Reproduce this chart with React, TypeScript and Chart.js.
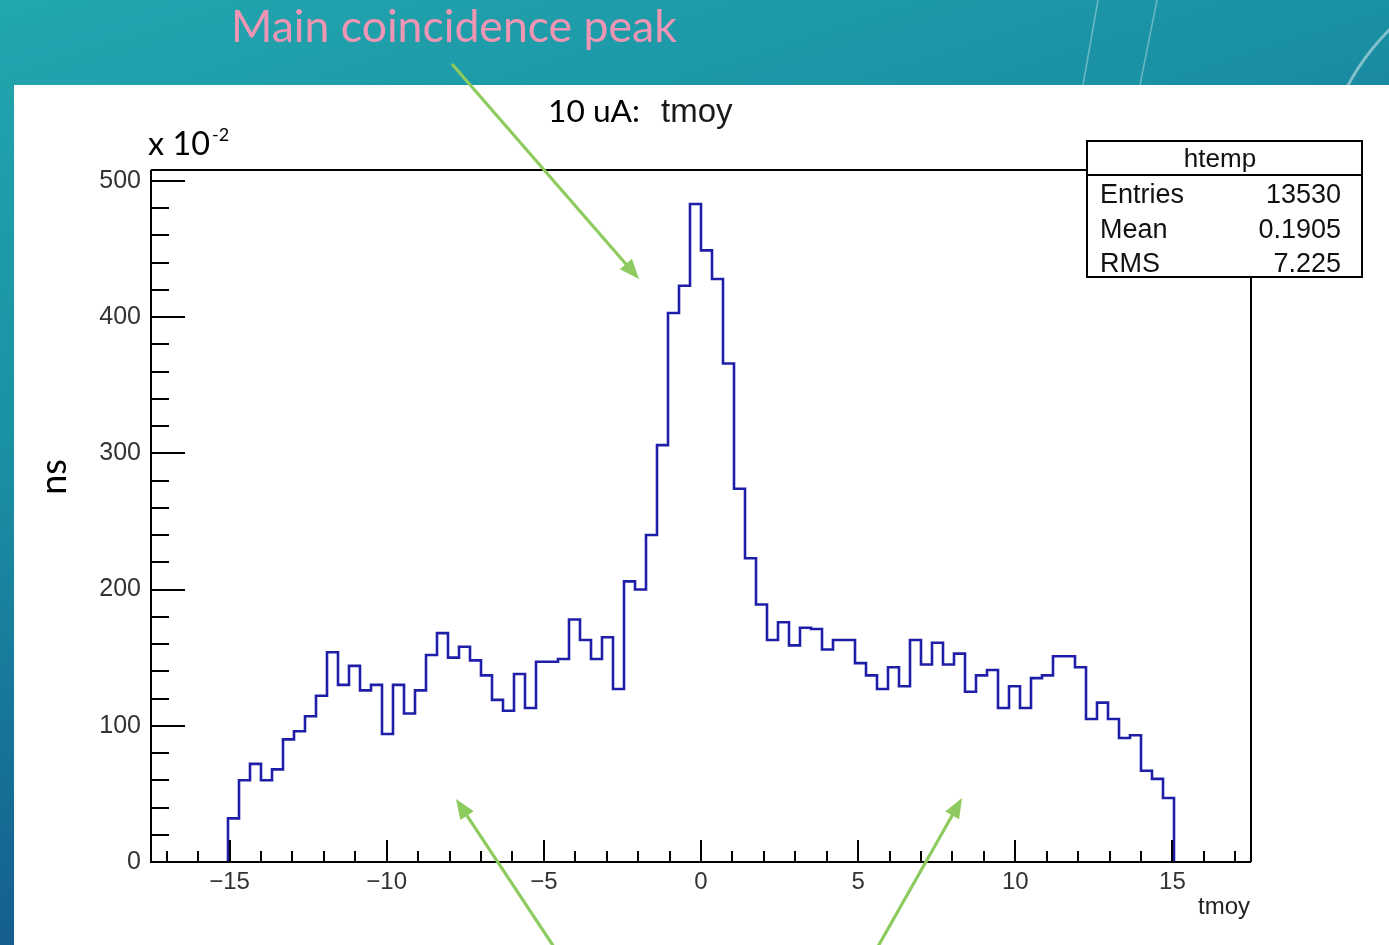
import React, { useEffect, useRef } from 'react';
import { Chart, registerables } from 'chart.js';

Chart.register(...registerables);

// ---- Histogram definition (ROOT TH1: 100 bins from -17.5 to 17.5) ----
const HIST_MIN = -17.5;
const HIST_MAX = 17.5;
const BIN_WIDTH = 0.35;
const FIRST_FILLED_BIN = 7;

// Bin contents (x 10^-2), bins 7..92
const binCounts = [
  32, 60, 72, 60, 68, 90, 96, 107, 122, 154,
  130, 144, 126, 130, 94, 130, 109, 126, 152, 168,
  150, 158, 148, 137, 119, 111, 138, 113, 147, 147,
  149, 178, 163, 149, 165, 127, 206, 200, 240, 306,
  403, 423, 483, 449, 428, 366, 274, 223, 189, 163,
  176, 159, 172, 171, 156, 163, 163, 146, 137, 127,
  143, 129, 163, 145, 161, 145, 153, 125, 137, 141,
  113, 129, 113, 135, 137, 151, 151, 143, 105, 117,
  105, 91, 93, 67, 61, 47,
];

const Y_MAX = 508;
const xTickValues = [-15, -10, -5, 0, 5, 10, 15];
const xTickLabels = ['\u221215', '\u221210', '\u22125', '0', '5', '10', '15'];
const yTickValues = [0, 100, 200, 300, 400, 500];
const yTickLabels = ['0', '100', '200', '300', '400', '500'];
const X_MINOR_STEP = 1;
const Y_MINOR_STEP = 20;

const statsTitle = 'htemp';
const statsNames = ['Entries', 'Mean', 'RMS'];
const statsValues = ['13530', '0.1905', '7.225'];

const slideTitle = 'Main coincidence peak';
const plotTitleA = '10 uA:';
const plotTitleB = 'tmoy';
const xAxisTitle = 'tmoy';
const yAxisTitle = 'ns';

const HELV = '"Liberation Sans", Arial, sans-serif';
const CAL = 'Lato, "Open Sans", sans-serif';

function fitSize(ctx: CanvasRenderingContext2D, text: string, family: string, target: number) {
  ctx.font = `100px ${family}`;
  const w = ctx.measureText(text).width;
  return (100 * target) / w;
}

function drawArrow(ctx: CanvasRenderingContext2D, x1: number, y1: number, x2: number, y2: number) {
  const ang = Math.atan2(y2 - y1, x2 - x1);
  const head = 20;
  const half = 8;
  ctx.save();
  ctx.strokeStyle = '#8dcb5e';
  ctx.fillStyle = '#8dcb5e';
  ctx.lineWidth = 3.2;
  ctx.beginPath();
  ctx.moveTo(x1, y1);
  ctx.lineTo(x2 - Math.cos(ang) * head * 0.8, y2 - Math.sin(ang) * head * 0.8);
  ctx.stroke();
  ctx.beginPath();
  ctx.moveTo(x2, y2);
  ctx.lineTo(x2 - Math.cos(ang) * head - Math.sin(ang) * half, y2 - Math.sin(ang) * head + Math.cos(ang) * half);
  ctx.lineTo(x2 - Math.cos(ang) * head + Math.sin(ang) * half, y2 - Math.sin(ang) * head - Math.cos(ang) * half);
  ctx.closePath();
  ctx.fill();
  ctx.restore();
}

const slidePlugin = {
  id: 'slide',
  beforeDraw(chart: any) {
    const ctx: CanvasRenderingContext2D = chart.ctx;
    const W = chart.width;
    const H = chart.height;
    ctx.save();
    const g = ctx.createLinearGradient(0, 0, 300, 945);
    g.addColorStop(0, '#22a7ae');
    g.addColorStop(0.45, '#1a8fa3');
    g.addColorStop(1, '#13548b');
    ctx.fillStyle = g;
    ctx.fillRect(0, 0, W, H);
    // faint decorative arcs
    ctx.strokeStyle = 'rgba(255,255,255,0.45)';
    ctx.lineWidth = 3;
    ctx.beginPath();
    ctx.arc(1560, 200, 241, 0, Math.PI * 2);
    ctx.stroke();
    ctx.strokeStyle = 'rgba(255,255,255,0.35)';
    ctx.lineWidth = 1.5;
    ctx.beginPath();
    ctx.moveTo(1098, 0);
    ctx.lineTo(1083, 85);
    ctx.moveTo(1157, 0);
    ctx.lineTo(1140, 85);
    ctx.stroke();
    // white panel
    ctx.fillStyle = '#ffffff';
    ctx.fillRect(14, 85, W - 14, H - 85);
    ctx.restore();
  },
  afterDraw(chart: any) {
    const ctx: CanvasRenderingContext2D = chart.ctx;
    const xs = chart.scales.x;
    const ys = chart.scales.y;
    const { left, right, top, bottom } = chart.chartArea;
    ctx.save();
    ctx.strokeStyle = '#000';
    ctx.lineWidth = 2;
    // frame
    ctx.beginPath();
    ctx.moveTo(left, top);
    ctx.lineTo(right, top);
    ctx.lineTo(right, bottom);
    ctx.moveTo(left, top);
    ctx.lineTo(left, bottom);
    ctx.lineTo(right, bottom);
    ctx.stroke();
    // y ticks (inside)
    ctx.beginPath();
    for (let v = 0; v <= Y_MAX; v += Y_MINOR_STEP) {
      const y = Math.round(ys.getPixelForValue(v));
      const major = yTickValues.includes(v);
      ctx.moveTo(left, y);
      ctx.lineTo(left + (major ? 34 : 18), y);
    }
    // x ticks (inside)
    for (let v = Math.ceil(HIST_MIN); v <= HIST_MAX; v += X_MINOR_STEP) {
      const x = Math.round(xs.getPixelForValue(v));
      const major = xTickValues.includes(v);
      ctx.moveTo(x, bottom);
      ctx.lineTo(x, bottom - (major ? 22 : 11));
    }
    ctx.stroke();

    // stats box
    const bx = 1087, by = 141, bw = 275, bh = 136;
    ctx.fillStyle = '#fff';
    ctx.fillRect(bx, by, bw, bh);
    ctx.strokeRect(bx, by, bw, bh);
    ctx.beginPath();
    ctx.moveTo(bx, 175);
    ctx.lineTo(bx + bw, 175);
    ctx.stroke();
    ctx.fillStyle = '#111';
    ctx.font = `26px ${HELV}`;
    ctx.textBaseline = 'alphabetic';
    ctx.textAlign = 'center';
    ctx.fillText(statsTitle, 1220, 167);
    const baselines = [203, 238, 272];
    statsNames.forEach((n, i) => {
      ctx.font = `27px ${HELV}`;
      ctx.textAlign = 'left';
      ctx.fillText(n, 1100, baselines[i]);
      ctx.textAlign = 'right';
      ctx.fillText(statsValues[i], 1341, baselines[i]);
    });

    // x axis title
    ctx.fillStyle = '#222';
    ctx.font = `24px ${HELV}`;
    ctx.textAlign = 'right';
    ctx.fillText(xAxisTitle, 1250, 914);

    // plot title
    ctx.fillStyle = '#000';
    ctx.textAlign = 'left';
    ctx.font = `${fitSize(ctx, plotTitleA, CAL, 92)}px ${CAL}`;
    ctx.fillText(plotTitleA, 548, 122);
    ctx.fillStyle = '#1a1a1a';
    ctx.font = `33px ${HELV}`;
    ctx.fillText(plotTitleB, 661, 122);

    // x 10^-2
    ctx.fillStyle = '#000';
    ctx.font = `${fitSize(ctx, 'x 10', CAL, 62)}px ${CAL}`;
    ctx.fillText('x 10', 148, 155);
    ctx.font = `18px ${CAL}`;
    ctx.fillText('-2', 212, 141);

    // y axis title (rotated)
    ctx.save();
    ctx.translate(66, 477);
    ctx.rotate(-Math.PI / 2);
    ctx.textAlign = 'center';
    ctx.font = `36px ${CAL}`;
    ctx.fillText(yAxisTitle, 0, 0);
    ctx.restore();

    // slide title
    ctx.fillStyle = '#f096b4';
    ctx.textAlign = 'left';
    ctx.font = `${fitSize(ctx, slideTitle, CAL, 446)}px ${CAL}`;
    ctx.fillText(slideTitle, 231, 42);

    // arrows
    drawArrow(ctx, 452, 64, 639, 279);
    drawArrow(ctx, 556, 950, 456, 799);
    drawArrow(ctx, 876, 950, 962, 798);
    ctx.restore();
  },
};

function buildPoints() {
  const pts: { x: number; y: number }[] = [];
  const x0 = HIST_MIN + FIRST_FILLED_BIN * BIN_WIDTH;
  pts.push({ x: x0, y: 0 });
  binCounts.forEach((c, i) => pts.push({ x: x0 + i * BIN_WIDTH, y: c }));
  const xEnd = x0 + binCounts.length * BIN_WIDTH;
  pts.push({ x: xEnd, y: binCounts[binCounts.length - 1] });
  pts.push({ x: xEnd, y: 0 });
  return pts;
}

export default function App() {
  const ref = useRef<HTMLCanvasElement | null>(null);
  useEffect(() => {
    if (!ref.current) return;
    const chart = new Chart(ref.current, {
      type: 'line',
      data: {
        datasets: [
          {
            data: buildPoints(),
            stepped: 'before',
            borderColor: '#1e1ea8',
            borderWidth: 2.6,
            pointRadius: 0,
            fill: false,
            tension: 0,
          } as any,
        ],
      },
      options: {
        responsive: false,
        devicePixelRatio: 1,
        animation: false,
        events: [],
        layout: { padding: { left: 0, right: 138, top: 170, bottom: 0 } },
        plugins: { legend: { display: false }, title: { display: false }, tooltip: { enabled: false } },
        scales: {
          x: {
            type: 'linear',
            min: HIST_MIN,
            max: HIST_MAX,
            afterBuildTicks: (s: any) => {
              s.ticks = xTickValues.map((v) => ({ value: v }));
            },
            afterFit: (s: any) => {
              s.height = 83;
            },
            grid: { display: false, drawTicks: false },
            border: { display: false },
            ticks: {
              autoSkip: false,
              maxRotation: 0,
              padding: 6,
              color: '#333',
              font: { family: HELV, size: 24 },
              callback: (v: any) => xTickLabels[xTickValues.indexOf(Number(v))] ?? '',
            },
          },
          y: {
            type: 'linear',
            min: 0,
            max: Y_MAX,
            afterBuildTicks: (s: any) => {
              s.ticks = yTickValues.map((v) => ({ value: v }));
            },
            afterFit: (s: any) => {
              s.width = 151;
            },
            grid: { display: false, drawTicks: false },
            border: { display: false },
            ticks: {
              autoSkip: false,
              padding: 10,
              color: '#333',
              font: { family: HELV, size: 25 },
              callback: (v: any) => yTickLabels[yTickValues.indexOf(Number(v))] ?? '',
            },
          },
        },
      },
      plugins: [slidePlugin],
    } as any);
    return () => chart.destroy();
  }, []);
  return (
    <div style={{ position: 'fixed', left: 0, top: 0, width: 1389, height: 945, overflow: 'hidden' }}>
      <canvas ref={ref} width={1389} height={945} style={{ width: 1389, height: 945, display: 'block' }} />
    </div>
  );
}
